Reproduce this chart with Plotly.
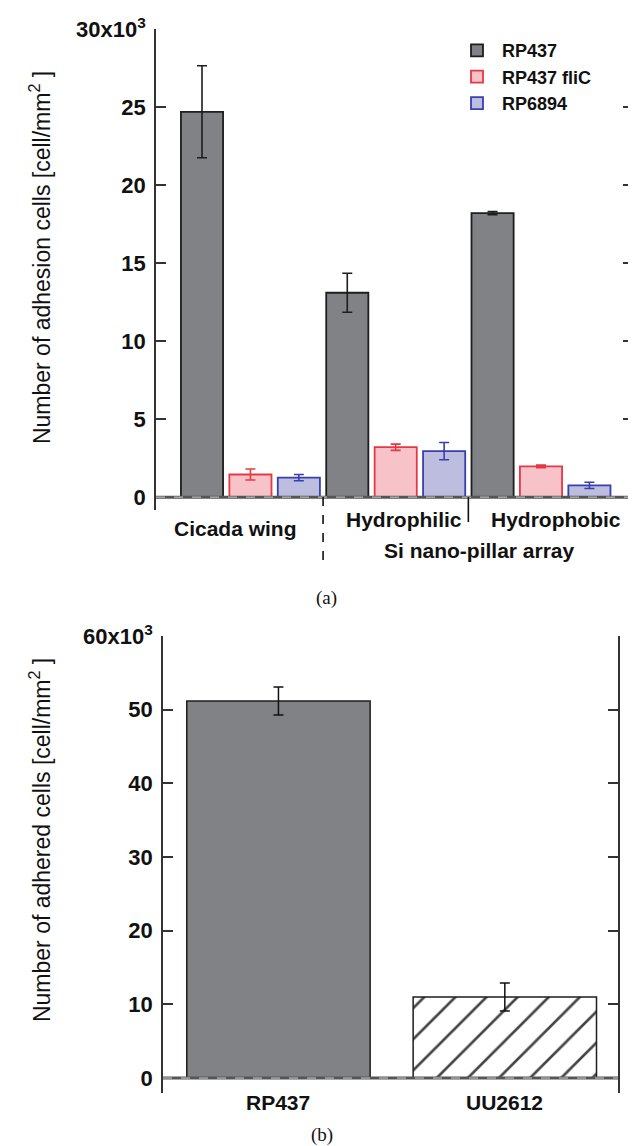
import plotly.graph_objects as go

# ---------------- data ----------------
# Panel (a): surfaces (groups) and strains (series), values in 10^3 cells/mm^2
surfaces = ["Cicada wing", "Hydrophilic", "Hydrophobic"]
rp437 = [24.7, 13.1, 18.2]
rp437_err = [2.95, 1.25, 0.1]
rp437_flic = [1.45, 3.2, 1.97]
rp437_flic_err = [0.35, 0.2, 0.08]
rp6894 = [1.25, 2.95, 0.75]
rp6894_err = [0.2, 0.55, 0.2]
ticks_a = [0, 5, 10, 15, 20, 25, 30]
ticktext_a = ["0", "5", "10", "15", "20", "25", "30x10<sup>3</sup>"]

# Panel (b)
strains_b = ["RP437", "UU2612"]
adhered = [51.2, 11.0]
adhered_err = [1.9, 1.9]
ticks_b = [0, 10, 20, 30, 40, 50, 60]
ticktext_b = ["0", "10", "20", "30", "40", "50", "60x10<sup>3</sup>"]

# ---------------- figure ----------------
PAGE_W, PAGE_H = 636, 1146
BODY = 8                      # default page body margin
W, H = PAGE_W - BODY, PAGE_H - BODY
FONT = "Liberation Sans, Arial, Helvetica, sans-serif"
SERIF = "Liberation Serif, Times New Roman, serif"


def py(p):  # target page pixel y (from top) -> paper y (empirically calibrated)
    p_int = (p - 16) / 0.986
    return 1 - (p_int - BODY) / H


def px(p):  # page pixel x -> paper x
    return (p - BODY) / W


fig = go.Figure()

series = [
    ("RP437", rp437, rp437_err, "#808285", "#1e1e1e", "#1e1e1e"),
    ("RP437 fliC", rp437_flic, rp437_flic_err, "#f8c3c8", "#e63844", "#e63844"),
    ("RP6894", rp6894, rp6894_err, "#bdbde0", "#3a3fae", "#3a3fae"),
]
n_series = len(series)
for si, (name, vals, errs, fill, edge, ecol) in enumerate(series):
    xs = [g * n_series + si for g in range(len(surfaces))]
    fig.add_trace(go.Bar(
        x=xs, y=vals, name=name, width=0.87,
        marker=dict(color=fill, line=dict(color=edge, width=1.8)),
        error_y=dict(type="data", array=errs, color=ecol, thickness=1.6, width=5),
        xaxis="x", yaxis="y",
    ))

fig.add_trace(go.Bar(
    x=strains_b, y=adhered, width=0.81, showlegend=False,
    marker=dict(color=["#808285", "white"], line=dict(color="#1e1e1e", width=1.5),
                pattern=dict(shape=["", "/"], fgcolor="#000000", bgcolor="white",
                             fgopacity=1, size=22, solidity=0.12)),
    error_y=dict(type="data", array=adhered_err, color="#111111", thickness=1.5, width=5),
    xaxis="x2", yaxis="y2",
))

yax_common = dict(
    ticks="inside", ticklen=10, tickwidth=1.5, tickcolor="#333333",
    showline=True, linecolor="#333333", linewidth=1.6, mirror="ticks",
    showgrid=False, zeroline=False,
    tickfont=dict(family=FONT, size=22, color="#111111", weight=700),
    ticklabelstandoff=4,
)

fig.update_layout(
    width=W, height=H,
    margin=dict(l=0, r=0, t=0, b=0),
    paper_bgcolor="white", plot_bgcolor="white",
    barmode="overlay",
    font=dict(family=FONT, color="#111111"),
    xaxis=dict(domain=[px(156), px(633)], range=[-0.95, 8.9], anchor="y",
               showticklabels=False, ticks="", showline=False, showgrid=False,
               zeroline=False),
    yaxis=dict(domain=[py(510), py(29)], range=[-0.83, 30], anchor="x",
               tickvals=ticks_a, ticktext=ticktext_a, **yax_common),
    xaxis2=dict(domain=[px(163), px(618)], range=[-0.51, 1.5], anchor="y2",
                type="category", ticks="", showline=False, showgrid=False, zeroline=False,
                showticklabels=False),
    yaxis2=dict(domain=[py(1093), py(636)], range=[-2.04, 60], anchor="x2",
                tickvals=ticks_b, ticktext=ticktext_b, **yax_common),
    legend=dict(x=px(452), y=py(32), xanchor="left", yanchor="top",
                bgcolor="rgba(0,0,0,0)", traceorder="normal",
                font=dict(family=FONT, size=18, color="#111111", weight=700),
                itemwidth=40, tracegroupgap=0),
    showlegend=True,
)

shapes = []
# zero lines
for xr, yr in (("x", "y"), ("x2", "y2")):
    shapes.append(dict(type="line", xref=xr + " domain", yref=yr, x0=0, x1=1, y0=0, y1=0,
                       line=dict(color="#555555", width=3), layer="above"))
    shapes.append(dict(type="line", xref=xr + " domain", yref=yr, x0=0, x1=1, y0=0, y1=0,
                       line=dict(color="#d0d0d0", width=1, dash="dash"), layer="above"))
# group dividers in panel (a)
shapes.append(dict(type="line", xref="x", yref="paper", x0=2.5, x1=2.5, y0=py(497), y1=py(562),
                   line=dict(color="#111111", width=1.6, dash="dash")))
shapes.append(dict(type="line", xref="x", yref="paper", x0=5.5, x1=5.5, y0=py(497), y1=py(522),
                   line=dict(color="#111111", width=1.6)))
fig.update_layout(shapes=shapes)

lab_font = dict(family=FONT, size=21, color="#111111", weight=700)
C = dict(showarrow=False, xanchor="center", yanchor="middle")
annotations = [
    dict(text=surfaces[0], x=0.7, y=py(528), xref="x", yref="paper", font=lab_font, **C),
    dict(text=surfaces[1], x=4.17, y=py(519), xref="x", yref="paper", font=lab_font, **C),
    dict(text=surfaces[2], x=7.3, y=py(519), xref="x", yref="paper", font=lab_font, **C),
    dict(text="Si nano-pillar array", x=5.72, y=py(550), xref="x", yref="paper",
         font=lab_font, **C),
    dict(text=strains_b[0], x=strains_b[0], y=py(1102), xref="x2", yref="paper",
         font=lab_font, **C),
    dict(text=strains_b[1], x=strains_b[1], y=py(1102), xref="x2", yref="paper",
         font=lab_font, **C),
    dict(text="(a)", x=px(326), y=py(598), xref="paper", yref="paper",
         font=dict(family=SERIF, size=19, color="#111111"), **C),
    dict(text="(b)", x=px(322), y=py(1135), xref="paper", yref="paper",
         font=dict(family=SERIF, size=19, color="#111111"), **C),
    dict(text="Number of adhesion cells [cell/mm<sup>2</sup> ]", x=px(40), y=py(258),
         xref="paper", yref="paper", textangle=-90,
         font=dict(family=FONT, size=23, color="#111111"), **C),
    dict(text="Number of adhered cells [cell/mm<sup>2</sup> ]", x=px(40), y=py(840),
         xref="paper", yref="paper", textangle=-90,
         font=dict(family=FONT, size=23, color="#111111"), **C),
]
fig.update_layout(annotations=annotations)

fig.write_html("out.html")
